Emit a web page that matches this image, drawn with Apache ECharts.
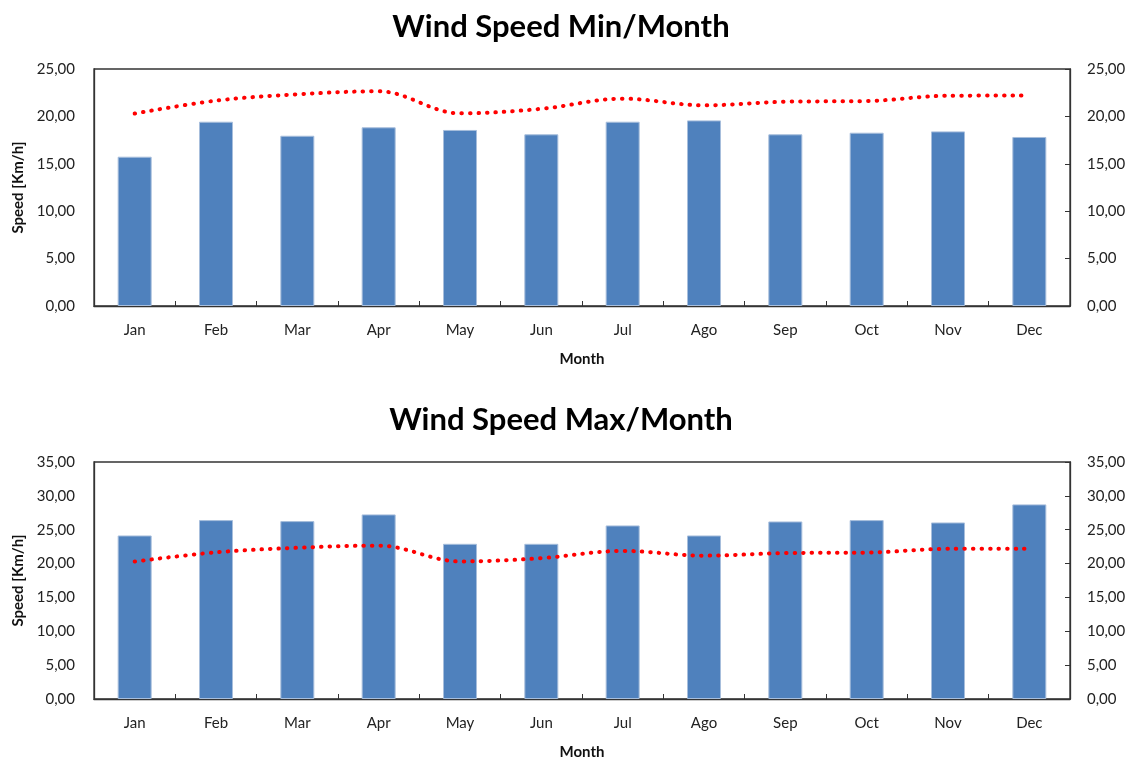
<!DOCTYPE html>
<html>
<head>
<meta charset="utf-8">
<script src="https://cdn.jsdelivr.net/npm/echarts@6/dist/echarts.min.js"></script>
<style>
html,body{margin:0;padding:0;background:#fff;}
#c{width:1148px;height:762px;}
</style>
</head>
<body>
<div id="c"></div>
<script>
const months = ['Jan','Feb','Mar','Apr','May','Jun','Jul','Ago','Sep','Oct','Nov','Dec'];
const minSpeed = [15.75,19.44,17.96,18.85,18.57,18.11,19.44,19.58,18.11,18.28,18.42,17.83];
const maxSpeed = [24.15,26.42,26.27,27.26,22.92,22.92,25.63,24.15,26.22,26.42,26.07,28.74];
const avgSpeed = [20.3,21.66,22.33,22.65,20.32,20.8,21.87,21.17,21.55,21.62,22.18,22.2];
const titles = ['Wind Speed Min/Month','Wind Speed Max/Month'];
const yTopMax = 25, yBotMax = 35, yStep = 5;

const FONT = 'Lato';
const fmt = v => v.toFixed(2).replace('.', ',');
const grids = [
  {left:94, right:78, top:69, height:237, show:true, borderColor:'#333', borderWidth:1.3, outerBoundsMode:'none', containLabel:false},
  {left:94, right:78, top:462, height:237, show:true, borderColor:'#333', borderWidth:1.3, outerBoundsMode:'none', containLabel:false}
];
function xAxis(i){
  return {type:'category', gridIndex:i, data:months,
    name:'Month', nameLocation:'middle', nameGap:46,
    nameTextStyle:{fontFamily:FONT,fontWeight:'bold',fontSize:15,color:'#111'},
    axisLine:{lineStyle:{color:'#333',width:1.3}},
    axisTick:{show:true,inside:true,length:5,lineStyle:{color:'#333'}},
    axisLabel:{fontFamily:FONT,fontSize:15,color:'#222',margin:17}};
}
function yAxis(i,max,pos){
  return {type:'value', gridIndex:i, min:0, max:max, interval:yStep, position:pos,
    name: pos==='left' ? 'Speed [Km/h]' : '', nameLocation:'middle', nameGap:66, nameRotate:90,
    nameTextStyle:{fontFamily:FONT,fontWeight:'bold',fontSize:15,color:'#111'},
    splitLine:{show:false},
    axisLine:{show:true,lineStyle:{color:'#333',width:1.3}},
    axisTick:{show:pos==='right',inside:true,length:5,lineStyle:{color:'#333'}},
    axisLabel:{fontFamily:FONT,fontSize:15,color:'#222',margin:pos==='left'?19:17,formatter:fmt}};
}
const barStyle = {color:'#4F81BD', borderColor:'#A7BEDC', borderWidth:1};
const lineStyle = {color:'#FF0000', width:4, type:[0.5,8], cap:'round'};
const titleStyle = {fontFamily:FONT,fontWeight:'bold',fontSize:31,fill:'#000',align:'center',verticalAlign:'middle'};
const option = {
  animation:false,
  graphic:[
    {type:'text', x:561, y:27, style:Object.assign({text:titles[0]},titleStyle)},
    {type:'text', x:561, y:420, style:Object.assign({text:titles[1]},titleStyle)}
  ],
  grid:grids,
  xAxis:[xAxis(0),xAxis(1)],
  yAxis:[yAxis(0,yTopMax,'left'),yAxis(0,yTopMax,'right'),yAxis(1,yBotMax,'left'),yAxis(1,yBotMax,'right')],
  series:[
    {type:'bar',xAxisIndex:0,yAxisIndex:0,data:minSpeed,barWidth:34,itemStyle:barStyle},
    {type:'line',xAxisIndex:0,yAxisIndex:1,data:avgSpeed,smooth:0.35,symbol:'none',lineStyle:lineStyle},
    {type:'bar',xAxisIndex:1,yAxisIndex:2,data:maxSpeed,barWidth:34,itemStyle:barStyle},
    {type:'line',xAxisIndex:1,yAxisIndex:3,data:avgSpeed,smooth:0.35,symbol:'none',lineStyle:lineStyle}
  ]
};
echarts.init(document.getElementById('c'),null,{renderer:'canvas'}).setOption(option);
</script>
</body>
</html>
